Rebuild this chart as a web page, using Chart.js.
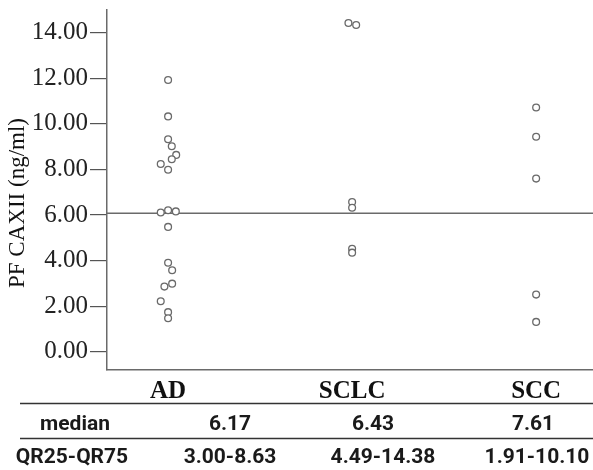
<!DOCTYPE html>
<html>
<head>
<meta charset="utf-8">
<script src="https://cdn.jsdelivr.net/npm/chart.js@4.4.1/dist/chart.umd.min.js"></script>
<style>
  body { margin: 0; background: #fff; }
  #chart { display: block; }
</style>
</head>
<body>
<canvas id="chart" width="593" height="470"></canvas>
<script>
// Groups on the x axis
const categories = ["AD", "SCLC", "SCC"];

// PF CAXII values (ng/ml) per group
const adValues = [11.93, 10.33, 9.33, 9.02, 8.64, 8.45, 8.24, 7.99, 6.21, 6.16, 6.11, 5.48, 3.91, 3.58, 2.99, 2.86, 2.22, 1.74, 1.47];
const adJitter = [0, 0, 0, 0.02, 0.044, 0.02, -0.04, 0, 0, 0.042, -0.04, 0, 0, 0.022, 0.022, -0.02, -0.04, 0, 0];
const sclcValues = [14.43, 14.34, 6.57, 6.32, 4.52, 4.35];
const sclcJitter = [-0.02, 0.022, 0, 0, 0, 0];
const sccValues = [10.72, 9.44, 7.60, 2.51, 1.31];
const sccJitter = [0, 0, 0, 0, 0];

// Horizontal reference line
const refValue = 6.08;

// Y axis tick labels
const yTicks = [0, 2, 4, 6, 8, 10, 12, 14];
const yTitle = "PF CAXII (ng/ml)";

// Table under the plot
const tableLabels = ["median", "QR25-QR75"];
const medians = ["6.17", "6.43", "7.61"];
const quartiles = ["3.00-8.63", "4.49-14.38", "1.91-10.10"];

const X_MIN = 0.668, X_MAX = 3.309;

function toPoints(values, jitter, pos) {
  return values.map((v, i) => ({ x: pos + jitter[i], y: v }));
}

const pointStyle = {
  type: "scatter",
  pointStyle: "circle",
  pointRadius: 3.4,
  pointBorderWidth: 1.3,
  borderColor: "#6a6a6a",
  backgroundColor: "#ffffff",
  order: 1
};

// Y title and table drawn by hand
const tablePlugin = {
  id: "statsTable",
  afterDraw(chart) {
    const ctx = chart.ctx;
    ctx.save();
    ctx.translate(18, 203);
    ctx.rotate(-Math.PI / 2);
    ctx.fillStyle = "#111";
    ctx.font = "23px 'Liberation Serif'";
    ctx.textAlign = "center";
    ctx.textBaseline = "middle";
    ctx.fillText(yTitle, 0, 0);
    ctx.restore();

    ctx.save();
    ctx.strokeStyle = "#333";
    ctx.lineWidth = 1.5;
    [403.5, 438.5].forEach(y => {
      ctx.beginPath();
      ctx.moveTo(20, y);
      ctx.lineTo(593, y);
      ctx.stroke();
    });
    ctx.fillStyle = "#1a1a1a";
    ctx.font = "bold 21px Roboto";
    ctx.textAlign = "center";
    ctx.textBaseline = "middle";
    ctx.fillText(tableLabels[0], 75, 425);
    ctx.fillText(tableLabels[1], 72, 458);
    const medX = [230, 373, 533];
    const qX = [230, 383, 537];
    medians.forEach((t, i) => ctx.fillText(t, medX[i], 425));
    quartiles.forEach((t, i) => ctx.fillText(t, qX[i], 458));
    ctx.restore();
  }
};

document.addEventListener("DOMContentLoaded", () => {
  const ctx = document.getElementById("chart");

  new Chart(ctx, {
    data: {
      datasets: [
        Object.assign({ label: categories[0], data: toPoints(adValues, adJitter, 1) }, pointStyle),
        Object.assign({ label: categories[1], data: toPoints(sclcValues, sclcJitter, 2) }, pointStyle),
        Object.assign({ label: categories[2], data: toPoints(sccValues, sccJitter, 3) }, pointStyle),
        {
          type: "line",
          label: "reference",
          data: [{ x: X_MIN, y: refValue }, { x: X_MAX, y: refValue }],
          borderColor: "#6a6a6a",
          borderWidth: 1.5,
          pointRadius: 0,
          fill: false,
          order: 2
        }
      ]
    },
    options: {
      responsive: false,
      animation: false,
      // no extra room for point overflow, plot runs to the right edge
      layout: { autoPadding: false, padding: { top: 10, right: 0, bottom: 64, left: 0 } },
      plugins: {
        legend: { display: false },
        tooltip: { enabled: false }
      },
      scales: {
        x: {
          type: "linear",
          min: X_MIN,
          max: X_MAX,
          afterBuildTicks: scale => { scale.ticks = categories.map((c, i) => ({ value: i + 1 })); },
          afterFit: scale => {
            scale.height = 36;
            scale.paddingLeft = 0;
            scale.paddingRight = 0;
          },
          ticks: {
            padding: 7,
            color: "#111",
            font: { family: "Liberation Serif", size: 25, weight: "bold" },
            callback: v => categories[v - 1]
          },
          grid: { display: true, drawOnChartArea: false, drawTicks: false },
          border: { color: "#6a6a6a", width: 1.5 }
        },
        y: {
          min: -0.8,
          max: 15,
          afterBuildTicks: scale => { scale.ticks = yTicks.map(v => ({ value: v })); },
          afterFit: scale => {
            scale.width = 107;
            scale.paddingTop = 0;
            scale.paddingBottom = 0;
          },
          ticks: {
            padding: 2,
            color: "#222",
            font: { family: "Liberation Serif", size: 25 },
            callback: v => v.toFixed(2)
          },
          grid: { drawOnChartArea: false, drawTicks: true, tickLength: 17, color: "#555", lineWidth: 1.2 },
          border: { color: "#6a6a6a", width: 1.5 }
        }
      }
    },
    plugins: [tablePlugin]
  });
});
</script>
</body>
</html>
